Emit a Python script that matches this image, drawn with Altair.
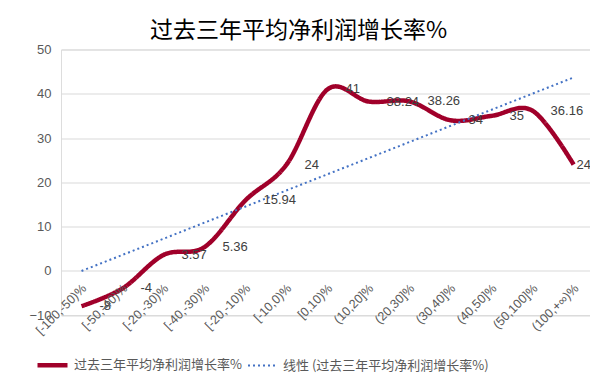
import altair as alt
import pandas as pd

categories = ["[-100,-50)%", "[-50,-40)%", "[-20,-30)%", "[-40,-30)%", "[-20,-10)%",
              "[-10,0)%", "[0,10)%", "(10,20]%", "(20,30]%", "(30,40]%",
              "(40,50]%", "(50,100]%", "(100,+∞)%"]
values = [-8, -4, 3.57, 5.36, 15.94, 24, 41, 38.24, 38.26, 34, 35, 36.16, 24]
value_labels = ["-8", "-4", "3.57", "5.36", "15.94", "24", "41", "38.24", "38.26",
                "34", "35", "36.16", "24"]
series_name = "过去三年平均净利润增长率%"
trend_name = "线性 (过去三年平均净利润增长率%)"
title_text = "过去三年平均净利润增长率%"

df = pd.DataFrame({
    "idx": list(range(1, len(categories) + 1)),
    "cat": categories,
    "val": values,
    "lbl": value_labels,
})

CJK = "Noto Sans CJK SC"
LAT = "Liberation Sans"

x_scale = alt.Scale(domain=[0.5, 13.4], nice=False, zero=False)
y_scale = alt.Scale(domain=[-10, 50], nice=False, zero=False)

leg = alt.Legend(
    orient="none", legendX=-26, legendY=298, direction="horizontal", title=None,
    symbolType="stroke", symbolSize=900, labelFont=CJK, labelFontSize=13,
    labelColor="#595959", labelLimit=400, labelOffset=4, columnPadding=2,
)

dom = [series_name, trend_name]
color = alt.Color("series:N", scale=alt.Scale(domain=dom, range=["#A0002A", "#4472C4"]), legend=leg, title=None)
dash = alt.StrokeDash("series:N", scale=alt.Scale(domain=dom, range=[[1, 0], [2, 3]]), legend=leg, title=None)
width_enc = alt.StrokeWidth("series:N", scale=alt.Scale(domain=dom, range=[4.5, 2]), legend=leg, title=None)

base = alt.Chart(df)

x_enc = alt.X("idx:Q", scale=x_scale, axis=None)
y_enc = alt.Y("val:Q", scale=y_scale, axis=alt.Axis(
    values=[-10, 0, 10, 20, 30, 40, 50], title=None, domain=False, ticks=False,
    labelPadding=10, labelFont=LAT, labelFontSize=13, labelColor="#595959",
    gridColor="#D9D9D9", gridWidth=1))

line = base.mark_line(interpolate="cardinal", tension=0).transform_calculate(
    series=f"'{series_name}'"
).encode(x=x_enc, y=y_enc, color=color, strokeDash=dash, strokeWidth=width_enc)

trend = base.transform_regression("idx", "val", extent=[1, 13]).transform_calculate(
    series=f"'{trend_name}'"
).mark_line().encode(
    x=alt.X("idx:Q", scale=x_scale, axis=None),
    y=alt.Y("val:Q", scale=y_scale),
    color=color, strokeDash=dash, strokeWidth=width_enc)

lbl_main = base.transform_filter("datum.idx < 13").mark_text(
    align="left", baseline="middle", dx=18, font=LAT, fontSize=13, color="#404040"
).encode(x=alt.X("idx:Q", scale=x_scale, axis=None), y=alt.Y("val:Q", scale=y_scale), text="lbl:N")

lbl_last = base.transform_filter("datum.idx == 13").mark_text(
    align="left", baseline="middle", dx=3, font=LAT, fontSize=13, color="#404040"
).encode(x=alt.X("idx:Q", scale=x_scale, axis=None), y=alt.Y("val:Q", scale=y_scale), text="lbl:N")

cat_labels = base.mark_text(
    angle=315, align="right", baseline="middle", dx=-9, dy=13,
    font=LAT, fontSize=12.5, color="#595959"
).encode(x=alt.X("idx:Q", scale=x_scale, axis=None), y=alt.datum(0), text="cat:N")

chart = alt.layer(line, trend, lbl_main, lbl_last, cat_labels).properties(
    width=529, height=265.5,
    autosize=alt.AutoSizeParams(type="none"),
    padding={"left": 53, "top": 41.5, "right": 0, "bottom": 69},
    title=alt.TitleParams(title_text, font=CJK, fontSize=23, fontWeight="normal",
                          color="#000000", anchor="middle", dx=-27, dy=9, offset=10),
).configure_view(stroke=None).configure(background="white")

chart.save("out.html", embed_options={"renderer": "svg", "actions": False})
